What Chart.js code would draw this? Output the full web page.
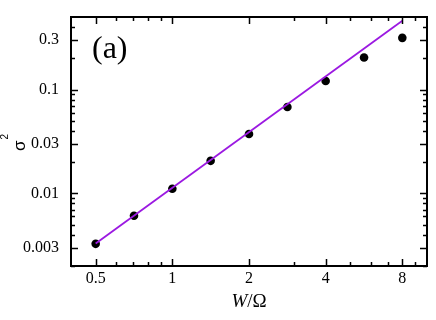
<!DOCTYPE html>
<html lang="en">

<head>
    <meta charset="UTF-8">
    <script src="https://cdn.jsdelivr.net/npm/chart.js"></script>
    <title>sigma2 vs W/Omega</title>
    <style>
        html, body {
            margin: 0;
            padding: 0;
            background: #fff;
        }

        canvas {
            display: block;
        }
    </style>
</head>

<body>
    <canvas id="myChart" width="436" height="320"></canvas>

    <script>
        // data
        const wOmega = [0.5, 0.707, 1, 1.414, 2, 2.83, 4, 5.66, 8]
        const sigma2 = [0.00327, 0.0061, 0.0111, 0.0206, 0.0373, 0.068, 0.121, 0.204, 0.315]
        // fitted power law, drawn between its two ends
        const fitX = [0.5, 8]
        const fitY = [0.0033, 0.461]

        const xTicks = [0.5, 1, 2, 4, 8]
        const xTickLabels = ['0.5', '1', '2', '4', '8']
        const xMinor = [0.6, 0.7, 0.8, 0.9, 3, 5, 6, 7, 9]
        const yTicks = [0.003, 0.01, 0.03, 0.1, 0.3]
        const yTickLabels = ['0.003', '0.01', '0.03', '0.1', '0.3']
        const yMinor = [0.002, 0.004, 0.005, 0.006, 0.007, 0.008, 0.009, 0.02,
            0.04, 0.05, 0.06, 0.07, 0.08, 0.09, 0.2, 0.4]

        const serif = "'Liberation Serif', 'Times New Roman', serif"
        const sans = "'Liberation Sans', Arial, sans-serif"
        const lineColor = 'rgb(155, 25, 225)'

        // frame, inward ticks, panel label and axis titles
        const framePlugin = {
            id: 'frame',
            afterDraw(chart) {
                const ctx = chart.ctx
                const area = chart.chartArea
                const xs = chart.scales.x
                const ys = chart.scales.y
                ctx.save()
                ctx.strokeStyle = '#000'
                ctx.lineWidth = 1.5
                function tickX(v, len) {
                    const px = Math.round(xs.getPixelForValue(v)) + 0.5
                    ctx.beginPath()
                    ctx.moveTo(px, area.bottom); ctx.lineTo(px, area.bottom - len)
                    ctx.moveTo(px, area.top); ctx.lineTo(px, area.top + len)
                    ctx.stroke()
                }
                function tickY(v, len) {
                    const py = Math.round(ys.getPixelForValue(v)) + 0.5
                    ctx.beginPath()
                    ctx.moveTo(area.left, py); ctx.lineTo(area.left + len, py)
                    ctx.moveTo(area.right, py); ctx.lineTo(area.right - len, py)
                    ctx.stroke()
                }
                xTicks.forEach(v => tickX(v, 7))
                xMinor.forEach(v => tickX(v, 4))
                yTicks.forEach(v => tickY(v, 7))
                yMinor.forEach(v => tickY(v, 4))

                ctx.lineWidth = 2
                ctx.strokeRect(area.left, area.top, area.right - area.left, area.bottom - area.top)

                ctx.fillStyle = '#000'
                ctx.textBaseline = 'alphabetic'
                ctx.textAlign = 'left'
                ctx.font = '32px ' + serif
                ctx.fillText('(a)', area.left + 21, area.top + 41)

                // W/Ω with an italic W
                const cx = (area.left + area.right) / 2
                ctx.font = 'italic 19px ' + serif
                const wW = ctx.measureText('W').width
                ctx.font = '19px ' + serif
                const wRest = ctx.measureText('/Ω').width
                const x0 = cx - (wW + wRest) / 2
                ctx.font = 'italic 19px ' + serif
                ctx.fillText('W', x0, 307)
                ctx.font = '19px ' + serif
                ctx.fillText('/Ω', x0 + wW, 307)

                // σ with a raised 2, turned to read upwards
                ctx.translate(25, 151)
                ctx.rotate(-Math.PI / 2)
                ctx.font = '17px ' + sans
                ctx.fillText('σ', 0, 0)
                const ws = ctx.measureText('σ').width
                ctx.font = '10px ' + sans
                ctx.fillText('2', ws + 1, -17)
                ctx.restore()
            }
        }

        const ctx = document.getElementById('myChart').getContext('2d')
        const chart = new Chart(ctx, {
            type: 'scatter',
            data: {
                datasets: [{
                    label: 'fit',
                    type: 'line',
                    data: fitX.map((x, i) => ({ x: x, y: fitY[i] })),
                    borderColor: lineColor,
                    borderWidth: 1.8,
                    pointRadius: 0,
                    fill: false
                }, {
                    label: 'sigma2',
                    data: wOmega.map((x, i) => ({ x: x, y: sigma2[i] })),
                    backgroundColor: '#000',
                    borderWidth: 0,
                    pointRadius: 4.3
                }]
            },
            options: {
                responsive: false,
                animation: false,
                layout: {
                    padding: { top: 17, right: 9, left: 0, bottom: 0 }
                },
                plugins: {
                    legend: { display: false },
                    tooltip: { enabled: false }
                },
                scales: {
                    x: {
                        type: 'logarithmic',
                        min: 0.4,
                        max: 10,
                        grid: { display: false },
                        border: { display: false },
                        afterBuildTicks: (scale) => {
                            scale.ticks = xTicks.map(v => ({ value: v }))
                        },
                        afterFit: (scale) => { scale.height = 54 },
                        ticks: {
                            color: '#000',
                            padding: -5,
                            maxRotation: 0,
                            autoSkip: false,
                            font: { family: serif, size: 16 },
                            callback: (v) => {
                                const i = xTicks.indexOf(v)
                                return i >= 0 ? xTickLabels[i] : ''
                            }
                        }
                    },
                    y: {
                        type: 'logarithmic',
                        min: 0.002,
                        max: 0.5,
                        grid: { display: false },
                        border: { display: false },
                        afterBuildTicks: (scale) => {
                            scale.ticks = yTicks.map(v => ({ value: v }))
                        },
                        afterFit: (scale) => { scale.width = 71 },
                        ticks: {
                            color: '#000',
                            padding: 4,
                            autoSkip: false,
                            font: { family: serif, size: 16 },
                            callback: (v) => {
                                const i = yTicks.indexOf(v)
                                return i >= 0 ? yTickLabels[i] : ''
                            }
                        }
                    }
                }
            },
            plugins: [framePlugin]
        })
    </script>
</body>

</html>
